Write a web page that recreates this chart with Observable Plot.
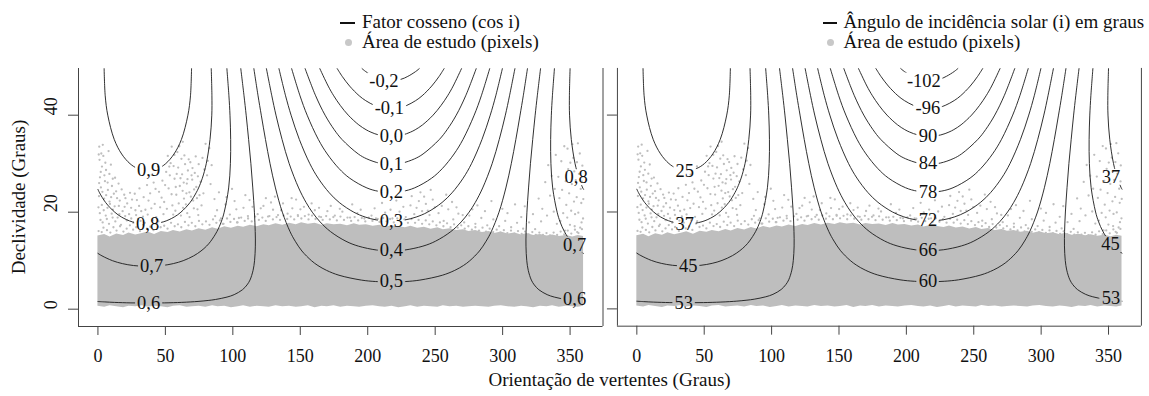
<!DOCTYPE html>
<html><head><meta charset="utf-8">
<script src="https://cdn.jsdelivr.net/npm/d3@7"></script>
<script src="https://cdn.jsdelivr.net/npm/@observablehq/plot@0.6"></script>
<style>
html,body{margin:0;padding:0;background:#fff;}
#fig{position:relative;width:1149px;height:396px;overflow:hidden;font-family:"Liberation Serif","Times New Roman",serif;color:#111;}
.panel{position:absolute;top:0;}
.txt{position:absolute;white-space:nowrap;font-size:19px;line-height:20px;}
.dash{position:absolute;height:2px;background:#111;}
.ldot{position:absolute;width:7px;height:7px;border-radius:50%;background:#c8c8c8;}
</style></head><body><div id="fig"></div>
<script>
// ---------- data ----------
const xTicks = [0, 50, 100, 150, 200, 250, 300, 350];
const yTicks = [0, 20, 40];

// contour lines (aspect in degrees, slope in degrees)
const lvl090 = [[4.6,49.6],[5.4,44],[7.3,40],[12.1,35],[17.6,32],[23.8,30],[29.5,29],[37,28.56],[44.5,29],[50.2,30],[56.4,32],[61.9,35],[66.7,40],[68.6,44],[69.4,49.6]];
const lvl080 = [[0,24.7],[1.2,24],[5.7,22],[12.5,20],[17.5,19],[25.6,18],[37,17.53],[48.4,18],[56.5,19],[61.5,20],[68.3,22],[72.8,24],[74.6,25],[77.4,27],[80.3,30],[83.1,35],[84.4,40],[84.5,44],[84,49.6]];
const lvl080r = [[360,24.7],[359.4,25],[356.6,27],[353.7,30],[350.9,35],[349.6,40],[349.5,44],[350,49.6]];
const lvl070 = [[0,11.5],[3,11],[10.8,10],[18.1,9.4],[26.4,9],[37,8.83],[47.6,9],[55.9,9.4],[63.2,10],[71,11],[76.4,12],[80.5,13],[83.6,14],[88.2,16],[91.4,18],[93.6,20],[96.9,25],[98.2,30],[98.4,35],[97.9,40],[97.1,44],[95.6,49.6]];
const lvl070r = [[360,11.5],[357.6,12],[353.5,13],[350.4,14],[345.8,16],[342.6,18],[340.4,20],[337.1,25],[335.8,30],[335.6,35],[336.1,40],[336.9,44],[338.4,49.6]];
const lvl060 = [[0,1.58],[5.1,1.5],[12.2,1.4],[24.5,1.3],[37,1.27],[49.5,1.3],[61.8,1.4],[68.9,1.5],[74.2,1.6],[81.7,1.8],[87.1,2],[95.7,2.5],[101,3],[107.1,4],[110.5,5],[112.7,6],[115,8],[116.1,10],[116.7,13],[116.6,16],[116,20],[114.8,25],[113.4,30],[111.7,35],[109.9,40],[108.3,44],[105.9,49.6]];
const lvl060r = [[360,1.58],[352.3,1.8],[346.9,2],[338.3,2.5],[333,3],[326.9,4],[323.5,5],[321.3,6],[319,8],[317.9,10],[317.3,13],[317.4,16],[318,20],[319.2,25],[320.6,30],[322.3,35],[324.1,40],[325.7,44],[328.1,49.6]];
const lvl050 = [[115.6,49.6],[118.7,44],[121.1,40],[124.2,35],[127.6,30],[131.6,25],[136.7,20],[142.4,16],[146.3,14],[151.2,12],[158.3,10],[163.1,9],[169.5,8],[178.7,7],[195.3,6],[205.9,5.7],[217,5.6],[228.1,5.7],[238.7,6],[255.3,7],[264.5,8],[270.9,9],[275.7,10],[282.8,12],[287.7,14],[291.6,16],[297.3,20],[302.4,25],[306.4,30],[309.8,35],[312.9,40],[315.3,44],[318.4,49.6]];
const lvl040 = [[124.9,49.6],[128.9,44],[132,40],[136.5,35],[141.8,30],[148.8,25],[154.3,22],[158.9,20],[164.7,18],[172.4,16],[183.9,14],[193.1,13],[206.6,12.2],[217,12.02],[227.4,12.2],[240.9,13],[250.1,14],[261.6,16],[269.3,18],[275.1,20],[279.7,22],[285.2,25],[292.2,30],[297.5,35],[302,40],[305.1,44],[309.1,49.6]];
const lvl030 = [[134.2,49.6],[139.1,44],[143.2,40],[149.3,35],[157.1,30],[163.3,27],[171.5,24],[178.9,22],[189.7,20],[198.1,19],[206.5,18.4],[217,18.14],[227.5,18.4],[235.9,19],[244.3,20],[255.1,22],[262.5,24],[270.7,27],[276.9,30],[284.7,35],[290.8,40],[294.9,44],[299.8,49.6]];
const lvl020 = [[143.6,49.6],[149.8,44],[155.1,40],[163.4,35],[170,32],[178.7,29],[186.7,27],[199.4,25],[208.1,24.3],[217,24.06],[225.9,24.3],[234.6,25],[247.3,27],[255.3,29],[264,32],[270.6,35],[278.9,40],[284.2,44],[290.4,49.6]];
const lvl010 = [[153.6,49.6],[161.4,44],[168.4,40],[175.2,37],[180.9,35],[193,32],[199.3,31],[208.8,30.1],[217,29.86],[225.2,30.1],[234.7,31],[241,32],[253.1,35],[258.8,37],[265.6,40],[272.6,44],[280.4,49.6]];
const lvl000 = [[164.5,49.6],[170.7,46],[174.8,44],[179.7,42],[185.6,40],[193.4,38],[198.8,37],[202.4,36.5],[208.5,35.9],[217,35.6],[225.5,35.9],[231.6,36.5],[235.2,37],[240.6,38],[248.4,40],[254.3,42],[259.2,44],[263.3,46],[269.5,49.6]];
const lvlm010 = [[177.4,49.6],[181.1,48],[186.6,46],[193.7,44],[198.5,43],[205.2,42],[209.6,41.6],[217,41.34],[224.4,41.6],[228.8,42],[235.5,43],[240.3,44],[247.4,46],[252.9,48],[256.6,49.6]];
const lvlm020 = [[195.8,49.6],[198.5,49],[204.3,48],[209.4,47.4],[217,47.14],[224.6,47.4],[229.7,48],[235.5,49],[238.2,49.6]];

// contour labels: left panel (cos i) and right panel (angle i)
const cosLabels = ["-0,2","-0,1","0,0","0,1","0,2","0,3","0,4","0,5","0,9","0,8","0,7","0,6","0,8","0,7","0,6"];
const cosLabelX = [212, 216, 217.5, 217.5, 217.5, 217.5, 217.5, 217.5, 37.6, 36.8, 39.8, 37.6, 354.5, 353.4, 353.4];
const cosLabelY = [47.1, 41.4, 35.7, 29.9, 24.1, 18.2, 12.1, 5.7, 28.6, 17.6, 8.9, 1.3, 27.2, 13.3, 2.1];
const angLabels = ["-102","-96","90","84","78","72","66","60","25","37","45","53","37","45","53"];
const angLabelX = [213, 216, 216, 216, 216, 216, 216, 216, 35.6, 35.6, 38.2, 34.8, 351.9, 351.5, 351.9];
const angLabelY = [47.1, 41.4, 35.7, 30.0, 24.2, 18.3, 12.1, 5.8, 28.5, 17.6, 8.9, 1.3, 27.2, 13.3, 2.2];

// dense part of the study-area cloud (lower and upper edge)
const bandX = [0,5,9,14,19,23,28,33,37,42,47,52,56,61,66,70,75,80,85,89,94,99,104,108,113,118,123,127,132,137,142,147,151,156,161,166,170,175,180,185,190,194,199,204,209,213,218,223,228,232,237,242,247,252,256,261,266,271,275,280,285,290,294,299,304,309,314,318,323,328,333,337,342,347,352,356,360];
const bandTop = [15.1,15.4,14.9,15.5,15.2,15.7,15.3,15.6,15.9,15.4,16.0,15.8,16.2,15.9,16.4,16.1,16.6,16.3,16.8,16.5,17.0,16.7,17.1,16.9,17.3,17.0,17.4,17.2,17.6,17.3,17.7,17.4,17.8,17.5,17.7,17.3,17.6,17.4,17.5,17.2,17.6,17.3,17.4,17.1,17.3,16.9,17.2,17.0,16.8,17.1,16.7,16.9,16.5,16.8,16.4,16.6,16.2,16.4,16.0,16.2,15.8,16.0,15.6,15.9,15.5,15.7,15.3,15.6,15.2,15.4,15.1,15.3,15.0,15.2,14.9,15.2,15.0];
const bandBottom = [0.6,0.4,0.7,0.5,0.3,0.6,0.5,0.7,0.4,0.6,0.5,0.3,0.6,0.7,0.4,0.5,0.6,0.4,0.7,0.5,0.6,0.3,0.5,0.7,0.4,0.6,0.5,0.4,0.7,0.5,0.6,0.4,0.5,0.7,0.3,0.6,0.5,0.7,0.4,0.6,0.5,0.4,0.6,0.7,0.5,0.4,0.6,0.3,0.5,0.7,0.4,0.6,0.5,0.4,0.7,0.5,0.6,0.4,0.5,0.6,0.5,0.4,0.6,0.7,0.5,0.4,0.6,0.5,0.3,0.6,0.5,0.7,0.4,0.6,0.5,0.4,0.6];

// fringe of pixels just above the dense cloud
const fringePts = [
[0.5,16.1],[2.8,15.9],[4.1,16.8],[6.7,16.3],[9.2,15.8],[11.5,16.9],[13.8,16.2],[16.4,17.1],[18.9,16.0],[21.3,16.6],[23.7,17.3],[26.1,16.4],[28.4,16.9],[31.2,16.1],[33.6,17.4],[36.3,16.6],[38.8,17.0],[41.2,16.3],[43.9,17.6],[46.5,16.9],[49.1,17.2],[51.6,16.6],[54.2,17.8],[56.9,17.1],[59.3,17.5],[61.8,16.9],[64.5,18.0],[67.1,17.3],[69.6,17.8],[72.2,17.1],[74.9,18.2],[77.4,17.5],[80.1,18.1],[82.7,17.4],[85.3,18.5],[87.8,17.8],[90.4,18.3],[93.1,17.6],[95.7,18.7],[98.2,18.0],[100.9,18.6],[103.5,17.9],[106.2,18.9],[108.8,18.2],[111.3,18.7],[114.0,18.1],[116.6,19.1],[119.3,18.4],[121.9,18.9],[124.4,18.2],[127.1,19.2],[129.7,18.5],[132.4,19.0],[135.0,18.4],[137.6,19.3],[140.3,18.6],[142.9,19.1],[145.5,18.5],[148.2,19.4],[150.8,18.7],[153.4,19.2],[156.1,18.5],[158.7,19.3],[161.3,18.6],[164.0,19.1],[166.6,18.4],[169.2,19.2],[171.9,18.5],[174.5,19.0],[177.1,18.3],[179.8,19.1],[182.4,18.4],[185.0,18.9],[187.7,18.2],[190.3,19.0],[192.9,18.3],[195.6,18.8],[198.2,18.1],[200.8,18.9],[203.5,18.2],[206.1,18.7],[208.7,18.0],[211.4,18.8],[214.0,18.1],[216.6,18.6],[219.3,17.9],[221.9,18.7],[224.5,18.0],[227.2,18.5],[229.8,17.8],[232.4,18.6],[235.1,17.8],[237.7,18.4],[240.3,17.6],[243.0,18.3],[245.6,17.5],[248.2,18.1],[250.9,17.3],[253.5,17.9],[256.1,17.1],[258.8,17.7],[261.4,16.9],[264.0,17.5],[266.7,16.8],[269.3,17.3],[271.9,16.6],[274.6,17.1],[277.2,16.4],[279.8,16.9],[282.5,16.2],[285.1,16.8],[287.7,16.0],[290.4,16.6],[293.0,15.9],[295.6,16.4],[298.3,15.8],[300.9,16.3],[303.5,15.7],[306.2,16.2],[308.8,15.6],[311.4,16.1],[314.1,15.5],[316.7,16.0],[319.3,15.4],[322.0,15.9],[324.6,15.3],[327.2,15.8],[329.9,15.3],[332.5,15.7],[335.1,15.2],[337.8,15.8],[340.4,15.3],[343.0,16.0],[345.7,15.4],[348.3,16.2],[350.9,15.6],[353.6,16.4],[356.2,15.7],[358.8,16.5]
];

// sparse pixels higher up
const scatterPts = [
[1,33.5],[2.5,32.1],[1.2,30.8],[4,31.6],[3,29.4],[6,28.7],[1.5,27.2],[8.5,27.9],[5.2,26.4],[11,26.9],[2.2,25.1],[7.4,24.6],[13.5,24.3],[0.8,23.3],[4.6,22.8],[9.8,23.1],[16.2,22.4],[19.5,23.6],[2.9,21.5],[7.1,20.9],[12.4,21.2],[21.7,21.8],[25.3,22.6],[1.4,19.8],[5.8,19.3],[10.2,19.7],[14.6,18.9],[18.3,20.2],[23.1,19.6],[27.8,20.4],[30.5,21.3],[3.5,17.9],[8.2,17.6],[12.9,18.1],[17.1,17.4],[21.4,18.3],[26.2,17.8],[29.7,18.6],[33.4,19.1],
[0.6,31.9],[3.6,33.9],[5.5,30.2],[7.9,32.6],[9.6,29.8],[2.1,28.3],[4.8,27.6],[7.2,26.1],[10.4,25.4],[12.7,27.1],[15.3,25.9],[0.9,26.0],[3.3,24.2],[6.1,23.5],[8.6,22.2],[11.8,23.8],[14.2,22.9],[17.6,24.7],[20.4,22.9],[23.8,24.0],[0.4,21.0],[4.3,20.4],[8.9,21.7],[11.1,20.5],[15.5,21.3],[19.8,21.1],[24.6,20.9],[28.9,22.5],[32.1,20.2],[1.9,18.4],[6.6,18.6],[10.9,18.9],[15.9,19.6],[20.2,19.2],[24.7,18.7],[28.3,19.4],[31.6,18.2],[34.8,17.8],[36.9,19.5],[39.6,20.8],[37.5,22.4],[40.5,18.3],[43.2,19.0],[46.1,21.0],[44.8,18.1],[27.3,23.8],[30.8,24.9],[33.9,23.1],[36.4,25.6],[39.9,27.7],[42.7,24.8],
[45.3,24.2],[47.8,26.5],[49.1,22.1],[50.6,28.3],[52.4,24.9],[53.9,30.1],[55.2,21.4],[56.8,26.9],[58.1,23.6],[59.5,29.2],[60.7,25.4],[61.9,31.0],[62.4,27.8],[63.8,22.8],[64.6,29.9],[65.9,25.9],[66.7,28.6],[67.8,24.1],[68.5,30.3],[69.9,26.7],[70.6,22.4],[71.8,28.1],[72.9,25.2],[74.1,27.4],[75.3,23.5],[57.4,20.3],[63.1,20.9],[48.6,19.6],[66.2,19.8],[73.8,20.6],[42.1,21.7],[38.7,23.9],[35.2,20.5],[41.3,26.1],[44.6,29.4],[51.8,31.6],[58.9,32.4],[54.7,33.5],
[47.2,23.0],[49.8,25.6],[51.1,20.7],[53.3,27.6],[54.6,23.7],[56.1,29.5],[57.7,25.2],[59.9,21.8],[61.2,27.0],[62.8,24.4],[64.1,31.7],[65.2,21.6],[66.4,26.8],[67.3,30.9],[68.9,23.2],[70.1,29.1],[71.3,24.7],[72.5,31.5],[73.4,22.9],[74.7,29.9],[76.1,26.3],[76.8,21.4],[78.9,28.8],[81.5,30.6],[60.3,33.6],[62.9,34.5],[56.7,31.8],[52.9,29.4],[58.4,27.9],[63.6,26.1],[69.4,27.6],[65.6,23.9],[71.1,20.8],[55.8,19.5],[61.5,19.3],[67.9,19.0],[74.4,19.4],
[77.5,31.2],[79.8,34.1],[82.6,33.2],[84.3,29.7],[80.9,27.6],[78.2,23.9],[83.5,25.8],[86.4,22.7],
[88.3,20.4],[91.2,18.7],[94.6,21.6],[97.8,19.5],[101.3,22.3],[104.5,18.8],[107.9,20.9],[111.2,19.2],[114.6,21.1],[89.7,24.1],[99.4,24.8],[109.3,23.5],[92.5,17.6],[103.1,17.9],
[86.9,19.2],[95.3,23.1],[102.6,20.6],[112.4,22.5],[120.7,20.8],[128.3,22.0],[135.8,20.4],[143.6,22.9],[150.1,20.6],[158.4,21.8],[163.9,20.9],[172.6,21.3],[179.3,20.7],[188.5,21.6],[194.8,20.5],[205.1,20.8],[210.6,21.9],[216.9,20.5],[221.2,22.4],[226.4,21.1],[236.2,20.9],[241.8,23.2],[244.5,20.3],[249.7,21.0],[254.9,21.3],[258.2,23.6],[265.8,21.0],[270.4,19.4],[277.6,20.6],[286.9,20.2],[291.7,22.3],[303.6,19.8],[309.2,21.6],[313.8,19.0],[322.5,19.6],[329.4,20.7],
[118.4,19.6],[122.7,21.3],[126.1,19.1],[129.8,20.5],[133.5,19.4],[137.2,21.8],[140.6,19.7],[144.1,20.8],[148.3,19.2],[152.7,21.1],[156.2,19.5],[160.8,20.4],[165.4,19.0],[170.1,20.2],[175.6,19.3],[181.2,20.1],[186.9,18.9],[192.3,19.8],[197.5,18.7],[131.2,23.2],[146.9,22.6],[124.5,22.9],
[202.8,19.3],[207.4,18.6],[212.9,19.9],[218.3,18.7],[223.6,20.1],[228.2,19.0],[231.7,21.4],[234.5,19.6],[237.9,22.3],[240.3,20.2],[243.1,21.7],[245.8,19.4],[248.2,22.6],[239.1,24.1],[232.6,23.3],[246.7,24.6],
[252.5,19.8],[256.3,18.2],[259.7,20.6],[263.4,18.5],[267.2,19.7],[271.5,17.9],[275.3,19.3],[279.8,17.6],[284.2,18.8],[288.6,17.3],[293.1,18.5],[297.4,17.1],[301.9,18.2],[306.3,16.9],[310.7,17.8],[315.2,16.6],[319.6,17.9],[324.1,16.5],[328.5,18.1],[262.5,22.1],[281.3,21.4],[299.8,20.7],[316.4,21.2],[326.7,22.8],
[331.6,26.2],[333.8,29.7],[335.2,23.4],[337.9,20.1],[339.4,31.8],[341.3,27.3],[342.8,18.2],[344.1,24.6],[345.7,33.6],[347.2,21.5],[348.6,28.9],[349.9,17.4],[351.3,25.8],[352.4,31.2],[353.7,19.6],[354.9,23.1],[355.8,34.2],[356.6,27.9],[357.5,16.8],[358.3,21.9],[359.1,29.6],[359.6,18.7],[350.8,20.3],[346.3,16.2],[355.3,15.9],[357.9,24.8],[353.1,28.4],[348.1,33.1],[343.5,30.5],
[332.9,19.3],[336.4,27.5],[338.6,24.8],[340.2,17.6],[342.1,22.9],[344.9,19.8],[346.8,26.4],[349.3,23.9],[350.2,30.2],[352.9,22.2],[354.2,26.6],[356.1,19.9],[357.2,32.1],[358.9,26.3],[359.8,22.7],[355.1,30.3],[351.7,34.0],[358.5,17.9],[347.9,18.9],[353.4,17.1]
];

// ---------- tables built from the arrays ----------
const segments = [["0.9",lvl090],["0.8",lvl080],["0.8r",lvl080r],["0.7",lvl070],["0.7r",lvl070r],["0.6",lvl060],["0.6r",lvl060r],["0.5",lvl050],["0.4",lvl040],["0.3",lvl030],["0.2",lvl020],["0.1",lvl010],["0.0",lvl000],["-0.1",lvlm010],["-0.2",lvlm020]];
const contourTable = segments.flatMap(([id, pts]) => pts.map(([x, y]) => ({id, x, y})));
const bandTable = bandX.map((x, i) => ({x, lo: bandBottom[i], hi: bandTop[i]}));
const scatterTable = fringePts.concat(scatterPts).map(([x, y]) => ({x, y}));

const X_DOMAIN = [-14.4, 374.4];
const Y_DOMAIN = [-3.57, 49.63];
const FONT = "Liberation Serif, Times New Roman, serif";

function panel(labels, lx, ly, showYLabels) {
  const labelTable = labels.map((t, i) => ({t, x: lx[i], y: ly[i]}));
  return Plot.plot({
    width: 611, height: 396,
    marginLeft: 78, marginRight: 8.5, marginTop: 68, marginBottom: 70,
    x: {domain: X_DOMAIN},
    y: {domain: Y_DOMAIN},
    style: {background: "none", fontFamily: FONT, fontSize: "18px", color: "#111", overflow: "visible"},
    marks: [
      Plot.areaY(bandTable, {x: "x", y1: "lo", y2: "hi", fill: "#bebebe"}),
      Plot.dot(scatterTable, {x: "x", y: "y", r: 1.15, fill: "#bebebe"}),
      Plot.line(contourTable, {x: "x", y: "y", z: "id", stroke: "#1a1a1a", strokeWidth: 0.9, curve: "catmull-rom", ariaDescription: "contours"}),
      Plot.text(labelTable, {x: "x", y: "y", text: "t", fontSize: 18.5, fill: "#111", fontFamily: FONT, ariaDescription: "contour-labels"}),
      Plot.ruleX(X_DOMAIN, {stroke: "#444", strokeWidth: 1}),
      Plot.ruleY([Y_DOMAIN[0]], {stroke: "#444", strokeWidth: 1}),
      Plot.axisX({ticks: xTicks, tickSize: 9, tickPadding: 14, fontSize: 18, label: null, stroke: "#444", fill: "#111", fontFamily: FONT}),
      Plot.axisY({ticks: yTicks, tickSize: 10, tickFormat: () => "", label: null, stroke: "#444"}),
      showYLabels ? Plot.text(yTicks, {y: d => d, frameAnchor: "left", dx: -27.5, rotate: -90, text: d => String(d), fontSize: 18, fill: "#111", fontFamily: FONT}) : null
    ]
  });
}

function maskLabels(svg, id) {
  const ns = "http://www.w3.org/2000/svg";
  const g = svg.querySelector('g[aria-description="contours"]');
  const tg = svg.querySelector('g[aria-description="contour-labels"]');
  if (!g || !tg) return;
  const sr = svg.getBoundingClientRect();
  const defs = document.createElementNS(ns, "defs");
  const mask = document.createElementNS(ns, "mask");
  mask.setAttribute("id", id);
  mask.setAttribute("maskUnits", "userSpaceOnUse");
  mask.setAttribute("x", 0); mask.setAttribute("y", 0);
  mask.setAttribute("width", sr.width); mask.setAttribute("height", sr.height);
  const bg = document.createElementNS(ns, "rect");
  bg.setAttribute("x", 0); bg.setAttribute("y", 0);
  bg.setAttribute("width", sr.width); bg.setAttribute("height", sr.height);
  bg.setAttribute("fill", "white");
  mask.appendChild(bg);
  tg.querySelectorAll("text").forEach(t => {
    const r = t.getBoundingClientRect();
    const cut = document.createElementNS(ns, "rect");
    cut.setAttribute("x", r.left - sr.left - 2);
    cut.setAttribute("y", r.top - sr.top + 2);
    cut.setAttribute("width", r.width + 4);
    cut.setAttribute("height", Math.max(0, r.height - 4));
    cut.setAttribute("fill", "black");
    mask.appendChild(cut);
  });
  defs.appendChild(mask);
  svg.insertBefore(defs, svg.firstChild);
  const wrap = document.createElementNS(ns, "g");
  g.parentNode.insertBefore(wrap, g);
  wrap.appendChild(g);
  wrap.setAttribute("mask", `url(#${id})`);
}

const fig = document.getElementById("fig");
const left = panel(cosLabels, cosLabelX, cosLabelY, true);
const right = panel(angLabels, angLabelX, angLabelY, false);
const wl = document.createElement("div"); wl.className = "panel"; wl.style.left = "0px"; wl.appendChild(left);
const wr = document.createElement("div"); wr.className = "panel"; wr.style.left = "538.6px"; wr.appendChild(right);
fig.appendChild(wl); fig.appendChild(wr);
maskLabels(left, "maskL");
maskLabels(right, "maskR");

// legends and axis titles
function addText(str, left, top) {
  const d = document.createElement("div");
  d.className = "txt"; d.textContent = str;
  d.style.left = left + "px"; d.style.top = top + "px";
  fig.appendChild(d); return d;
}
function addDash(left, top, w) {
  const d = document.createElement("div"); d.className = "dash";
  d.style.left = left + "px"; d.style.top = top + "px"; d.style.width = w + "px";
  fig.appendChild(d);
}
function addDot(cx, cy) {
  const d = document.createElement("div"); d.className = "ldot";
  d.style.left = (cx - 3.5) + "px"; d.style.top = (cy - 3.5) + "px";
  fig.appendChild(d);
}
addDash(340, 22, 15); addText("Fator cosseno (cos i)", 362, 12);
addDot(348, 42); addText("Área de estudo (pixels)", 362, 32);
addDash(823, 22, 14); addText("Ângulo de incidência solar (i) em graus", 843.5, 12);
addDot(830, 42); addText("Área de estudo (pixels)", 843.5, 32);

const xt = addText("Orientação de vertentes (Graus)", 0, 370);
xt.style.left = (609.5 - xt.offsetWidth / 2) + "px";
const yt = addText("Declividade (Graus)", 0, 0);
yt.style.left = (19 - yt.offsetWidth / 2) + "px";
yt.style.top = (197 - yt.offsetHeight / 2) + "px";
yt.style.transform = "rotate(-90deg)";
</script></body></html>
